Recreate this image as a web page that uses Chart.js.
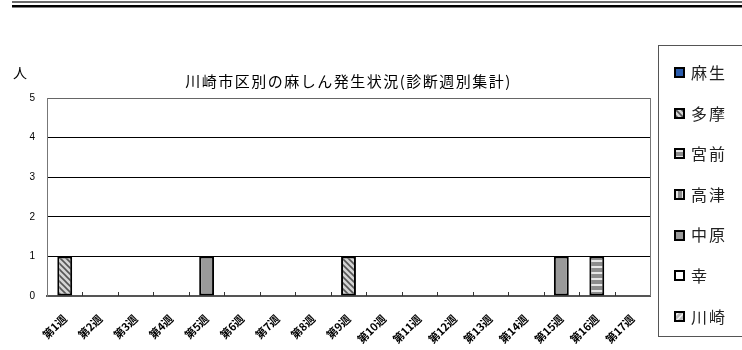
<!DOCTYPE html>
<html lang="ja">
<head>
<meta charset="utf-8">
<title>川崎市区別の麻しん発生状況</title>
<script src="https://cdn.jsdelivr.net/npm/chart.js@4.4.1/dist/chart.umd.min.js"></script>
<style>
  html, body { margin: 0; padding: 0; background: #fff; }
  #wrap { position: relative; width: 742px; height: 350px; overflow: hidden; }
  #measlesChart { position: absolute; left: 0; top: 0; }
  #legend {
    position: absolute; left: 658px; top: 45px; width: 100px; height: 292px;
    border: 1px solid #555; box-sizing: border-box;
    font-family: "Noto Sans CJK JP", sans-serif; font-size: 16px; color: #222;
    letter-spacing: 2px;
  }
  #legend .item { position: absolute; left: 15px; height: 20px; line-height: 20px; white-space: nowrap; }
  #legend canvas { vertical-align: middle; margin-right: 6px; position: relative; top: -2px; }
</style>
</head>
<body>
<div id="wrap">
  <canvas id="measlesChart" width="742" height="350"></canvas>
  <div id="legend"></div>
</div>
<script>
// 診断週
const weeks = ["第1週", "第2週", "第3週", "第4週", "第5週", "第6週", "第7週", "第8週", "第9週",
  "第10週", "第11週", "第12週", "第13週", "第14週", "第15週", "第16週", "第17週"];

// 区ごとの患者数（人）
const wards = ["麻生", "多摩", "宮前", "高津", "中原", "幸", "川崎"];
const asao      = [0, 0, 0, 0, 0, 0, 0, 0, 0, 0, 0, 0, 0, 0, 0, 0, 0];
const tama      = [1, 0, 0, 0, 0, 0, 0, 0, 1, 0, 0, 0, 0, 0, 0, 0, 0];
const miyamae   = [0, 0, 0, 0, 0, 0, 0, 0, 0, 0, 0, 0, 0, 0, 0, 1, 0];
const takatsu   = [0, 0, 0, 0, 0, 0, 0, 0, 0, 0, 0, 0, 0, 0, 0, 0, 0];
const nakahara  = [0, 0, 0, 0, 1, 0, 0, 0, 0, 0, 0, 0, 0, 0, 1, 0, 0];
const saiwai    = [0, 0, 0, 0, 0, 0, 0, 0, 0, 0, 0, 0, 0, 0, 0, 0, 0];
const kawasaki  = [0, 0, 0, 0, 0, 0, 0, 0, 0, 0, 0, 0, 0, 0, 0, 0, 0];
const seriesValues = [asao, tama, miyamae, takatsu, nakahara, saiwai, kawasaki];
const yTicks = [0, 1, 2, 3, 4, 5];

// Excel風の塗りパターン
function makePattern(kind) {
  const c = document.createElement("canvas");
  c.width = 6; c.height = 6;
  const g = c.getContext("2d");
  if (kind === "blue") { g.fillStyle = "#2a5cad"; g.fillRect(0, 0, 6, 6); }
  else if (kind === "gray") { g.fillStyle = "#9a9a9a"; g.fillRect(0, 0, 6, 6); }
  else if (kind === "white") { g.fillStyle = "#ffffff"; g.fillRect(0, 0, 6, 6); }
  else if (kind === "hatch") {
    g.fillStyle = "#d4d4d4"; g.fillRect(0, 0, 6, 6);
    g.strokeStyle = "#555"; g.lineWidth = 1.6;
    g.beginPath();
    g.moveTo(-1, -1); g.lineTo(7, 7);
    g.moveTo(-4, 2); g.lineTo(4, 10);
    g.moveTo(2, -4); g.lineTo(10, 4);
    g.stroke();
  } else if (kind === "rhatch") {
    g.fillStyle = "#bbbbbb"; g.fillRect(0, 0, 6, 6);
    g.strokeStyle = "#f4f4f4"; g.lineWidth = 1.4;
    g.beginPath();
    g.moveTo(-1, 7); g.lineTo(7, -1);
    g.moveTo(-4, 4); g.lineTo(4, -4);
    g.moveTo(2, 10); g.lineTo(10, 2);
    g.stroke();
  } else if (kind === "hstripe") {
    g.fillStyle = "#8c8c8c"; g.fillRect(0, 0, 6, 6);
    g.fillStyle = "#e6e6e6"; g.fillRect(0, 2, 6, 2);
  } else if (kind === "vstripe") {
    g.fillStyle = "#8c8c8c"; g.fillRect(0, 0, 6, 6);
    g.fillStyle = "#e6e6e6"; g.fillRect(2, 0, 2, 6);
  }
  return { canvas: c, fill: g.createPattern(c, "repeat") };
}

const fillKinds = ["blue", "hatch", "hstripe", "vstripe", "gray", "white", "rhatch"];
const fills = fillKinds.map(k => makePattern(k));

const datasets = wards.map((name, i) => ({
  label: name,
  data: seriesValues[i],
  backgroundColor: fills[i].fill,
  borderColor: "#000",
  borderWidth: 2,
  borderSkipped: false,
  barPercentage: 0.42,
  categoryPercentage: 1.0
}));

// タイトル・単位・罫線・目盛りを描くプラグイン
const decorations = {
  id: "decorations",
  beforeDraw(chart) {
    const ctx = chart.ctx;
    const a = chart.chartArea;
    ctx.save();
    ctx.fillStyle = "#6a6a6a";
    ctx.fillRect(12, 1, 730, 2);
    ctx.fillStyle = "#000";
    ctx.fillRect(12, 5, 730, 2.5);
    ctx.fillStyle = "#000";
    ctx.font = '14px "Noto Sans CJK JP"';
    ctx.textAlign = "center";
    ctx.textBaseline = "middle";
    ctx.fillText("人", 20, 73);
    ctx.font = '15px "Noto Sans CJK JP"';
    ctx.letterSpacing = "1.5px";
    ctx.fillText("川崎市区別の麻しん発生状況(診断週別集計)", (a.left + a.right) / 2, 81);
    ctx.restore();
  },
  afterDraw(chart) {
    const ctx = chart.ctx;
    const a = chart.chartArea;
    const x = chart.scales.x;
    ctx.save();
    ctx.strokeStyle = "#777";
    ctx.lineWidth = 1;
    ctx.beginPath();
    ctx.moveTo(Math.round(a.right) + 0.5, a.top);
    ctx.lineTo(Math.round(a.right) + 0.5, a.bottom);
    ctx.stroke();
    ctx.strokeStyle = "#333";
    ctx.beginPath();
    for (let i = 1; i < weeks.length; i++) {
      const px = Math.round((x.getPixelForValue(i - 1) + x.getPixelForValue(i)) / 2) + 0.5;
      ctx.moveTo(px, a.bottom);
      ctx.lineTo(px, a.bottom - 4);
    }
    ctx.stroke();
    ctx.restore();
  }
};

new Chart(document.getElementById("measlesChart"), {
  type: "bar",
  data: { labels: weeks, datasets: datasets },
  options: {
    responsive: false,
    animation: false,
    layout: { padding: { top: 98, right: 92, left: 0, bottom: 0 } },
    plugins: { legend: { display: false }, tooltip: { enabled: false } },
    scales: {
      x: {
        stacked: true,
        offset: true,
        grid: { display: false },
        border: { color: "#555", width: 2 },
        ticks: {
          autoSkip: false, minRotation: 45, maxRotation: 45, padding: 8,
          color: "#000", font: { family: "Noto Sans CJK JP", size: 11, weight: "bold" }
        },
        afterFit(s) { s.height = 54; }
      },
      y: {
        stacked: true,
        min: yTicks[0],
        max: yTicks[yTicks.length - 1],
        afterBuildTicks(s) { s.ticks = yTicks.map(v => ({ value: v })); },
        grid: {
          color: (c) => (c.tick && c.tick.value === 5 ? "#666" : "#000"),
          drawTicks: false
        },
        border: { color: "#777" },
        ticks: { padding: 12, color: "#000", font: { family: "Liberation Sans", size: 10 } },
        afterFit(s) { s.width = 47; }
      }
    }
  },
  plugins: [decorations]
});

// 凡例
const legend = document.getElementById("legend");
wards.forEach((name, i) => {
  const item = document.createElement("div");
  item.className = "item";
  item.style.top = (16 + i * 40.6) + "px";
  const m = document.createElement("canvas");
  m.width = 11; m.height = 11;
  const g = m.getContext("2d");
  g.fillStyle = g.createPattern(fills[i].canvas, "repeat");
  g.fillRect(0, 0, 11, 11);
  g.strokeStyle = "#000"; g.lineWidth = 2;
  g.strokeRect(1, 1, 9, 9);
  item.appendChild(m);
  item.appendChild(document.createTextNode(name));
  legend.appendChild(item);
});
</script>
</body>
</html>
